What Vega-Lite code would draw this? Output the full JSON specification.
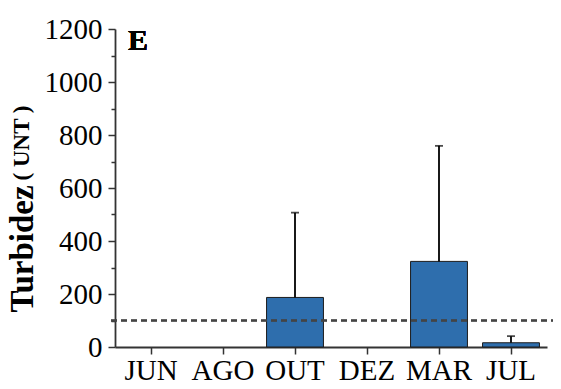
{
  "$schema": "https://vega.github.io/schema/vega-lite/v6.json",
  "width": 432,
  "height": 318,
  "autosize": {"type": "none"},
  "padding": {"left": 115, "top": 29, "right": 14, "bottom": 42},
  "background": "white",
  "config": {"view": {"stroke": null}, "font": "Liberation Serif"},
  "title": {"text": "( UNT )", "orient": "left", "anchor": "middle", "frame": "group", "fontSize": 23, "fontWeight": "bold", "font": "Liberation Serif", "color": "black", "dx": 45, "dy": 28, "offset": 0},
  "data": {"values": [
    {"mes": "JUN", "media": null, "sup": null},
    {"mes": "AGO", "media": null, "sup": null},
    {"mes": "OUT", "media": 187, "sup": 507},
    {"mes": "DEZ", "media": null, "sup": null},
    {"mes": "MAR", "media": 323, "sup": 759},
    {"mes": "JUL", "media": 16, "sup": 41}
  ]},
  "resolve": {"axis": {"y": "independent"}},
  "encoding": {
    "x": {"field": "mes", "type": "nominal", "sort": null,
      "scale": {"domain": ["JUN", "AGO", "OUT", "DEZ", "MAR", "JUL"], "paddingInner": 0.21, "paddingOuter": 0.105},
      "axis": {"title": null, "labelAngle": 0, "labelFontSize": 29, "labelColor": "black", "labelFont": "Liberation Serif", "labelPadding": 2, "tickSize": 7, "tickWidth": 1.5, "tickColor": "#333", "domainColor": "#333", "domainWidth": 1.8, "grid": false}}
  },
  "layer": [
    {"mark": {"type": "bar", "fill": "#2e6ead", "stroke": "#1c1c1c", "strokeWidth": 1},
     "encoding": {"y": {"field": "media", "type": "quantitative",
       "scale": {"domain": [0, 1200], "nice": false},
       "axis": {"orient": "left", "values": [0, 200, 400, 600, 800, 1000, 1200],
         "format": "d",
         "tickSize": 7,
         "tickWidth": 1.5, "tickColor": "#333", "domainColor": "#333", "domainWidth": 1.8,
         "labelFontSize": 29, "labelColor": "black", "labelFont": "Liberation Serif", "labelPadding": 6,
         "grid": false,
         "title": "Turbidez", "titleFontSize": 33, "titleFontWeight": "bold", "titleFont": "Liberation Serif", "titleColor": "black",
         "titleAngle": 270, "titleAlign": "left", "titleBaseline": "alphabetic", "titleX": -83, "titleY": 283}}}},
    {"mark": {"type": "rule", "strokeWidth": 1.8, "color": "black"},
     "encoding": {"y": {"field": "media", "type": "quantitative", "axis": null}, "y2": {"field": "sup"}}},
    {"mark": {"type": "tick", "orient": "horizontal", "size": 8, "thickness": 1.8, "color": "black"},
     "encoding": {"y": {"field": "sup", "type": "quantitative", "axis": null}}},
    {"mark": {"type": "rule", "strokeDash": [6, 4], "color": "#444", "strokeWidth": 1.5},
     "encoding": {"y": {"datum": 100, "type": "quantitative",
       "axis": {"orient": "left", "offset": 0, "values": [100, 300, 500, 700, 900, 1100], "labels": false, "domain": false, "tickSize": 4, "tickWidth": 1.5, "tickColor": "#333", "grid": false, "title": null}},
       "x": {"value": -4}, "x2": {"value": 438}}},
    {"mark": {"type": "text", "text": "E", "fontSize": 30, "fontWeight": "bold", "font": "Liberation Serif", "color": "black", "align": "left", "baseline": "top", "dx": -23, "dy": -3},
     "encoding": {"x": {"datum": "JUN"}, "y": {"datum": 1200, "type": "quantitative", "axis": null}}}
  ]
}
